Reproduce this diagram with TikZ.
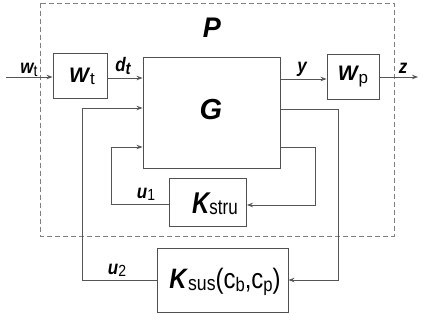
\documentclass[tikz,border=0pt]{standalone}
\usepackage{fontspec}
\setmainfont{Liberation Sans}
\usetikzlibrary{arrows.meta}
\definecolor{boxgray}{HTML}{505050}
\definecolor{linegray}{HTML}{555555}
\begin{document}
\begin{tikzpicture}[x=1pt,y=-1pt,
  blk/.style={draw=boxgray, line width=0.9pt, rectangle, inner sep=0pt},
  sig/.style={draw=linegray, line width=0.9pt, -{Stealth[length=6pt,width=4.5pt]}},
  lbl/.style={font=\fontsize{17}{19}\selectfont\bfseries\itshape, inner sep=0pt}]
\useasboundingbox (0,0) rectangle (423,323);
% P dashed box
\draw[draw=gray, line width=0.9pt, dash pattern=on 5pt off 3pt] (40,3) rectangle (394,236);
\node[inner sep=0pt, font=\fontsize{27}{30}\selectfont\bfseries\itshape] (P) at (212,28) {\scalebox{1}[1.05]{P}};
% blocks
\node[blk, minimum width=54pt, minimum height=45pt] (Wt) at (80,76) {};
\node[inner sep=0pt, font=\fontsize{21}{24}\selectfont] (Wtl) at (82,76) {\textbf{\textit{W}}\kern-0.5pt\raisebox{-2pt}{\fontsize{17}{19}\selectfont t}};
\node[blk, minimum width=137pt, minimum height=111pt] (G) at (211.5,112.5) {};
\node[inner sep=0pt, font=\fontsize{29}{32}\selectfont\bfseries\itshape] (Gl) at (211,110) {G};
\node[blk, minimum width=52pt, minimum height=45pt] (Wp) at (353,76.5) {};
\node[inner sep=0pt, font=\fontsize{21}{24}\selectfont] (Wpl) at (Wp.center) {\textbf{\textit{W}}\kern-0.5pt\raisebox{-3pt}{\fontsize{17}{19}\selectfont p}};
\node[blk, minimum width=77pt, minimum height=48pt] (Ks) at (208,202) {};
\node[inner sep=0pt, font=\fontsize{24}{27}\selectfont] (Ksl) at (215,204) {\scalebox{1}[1.25]{\textbf{\textit{K}}\kern-1.5pt\raisebox{-1pt}{\fontsize{17}{19}\selectfont stru}}};
\node[blk, minimum width=131pt, minimum height=64pt] (Ku) at (222.5,280) {};
\node[inner sep=0pt, font=\fontsize{23}{26}\selectfont] (Kul) at (225,282) {\scalebox{1.04}[1.22]{\textbf{\textit{K}}\raisebox{-2pt}{\fontsize{17}{19}\selectfont sus}(c\raisebox{-3pt}{\fontsize{16}{18}\selectfont b},c\raisebox{-3pt}{\fontsize{16}{18}\selectfont p})}};
% coordinates
\coordinate (in) at (6,77);
\coordinate (out) at (418,77);
\coordinate (r1) at (338,109);
\coordinate (r2) at (338,280);
\coordinate (l1) at (82,280);
\coordinate (l2) at (82,108);
\coordinate (s1) at (315,147);
\coordinate (s2) at (315,205);
\coordinate (t1) at (111,204);
\coordinate (t2) at (111,147);
% signals
\draw[sig] (in) -- (Wt.west |- in);
\draw[sig] (Wt.east |- 0,78) -- (G.west |- 0,78);
\draw[sig] (G.east |- 0,79) -- (Wp.west |- 0,79);
\draw[sig] (Wp.east |- out) -- (out);
\draw[sig] (G.east |- r1) -- (r1) -- (r2) -- (Ku.east |- r2);
\draw[sig] (Ku.west |- l1) -- (l1) -- (l2) -- (G.west |- l2);
\draw[sig] (G.east |- s1) -- (s1) -- (s2) -- (Ks.east |- s2);
\draw[sig] (Ks.west |- t1) -- (t1) -- (t2) -- (G.west |- t2);
% labels
\node[lbl] (lw) at (29,70) {\scalebox{1}[1.15]{w\raisebox{-3pt}{\mdseries\upshape\fontsize{14}{16}\selectfont t}}};
\node[lbl] (ld) at (123,66) {\scalebox{1}[1.15]{d\raisebox{-3pt}{\fontsize{15}{17}\selectfont t}}};
\node[lbl] (ly) at (302,69) {\scalebox{1}[1.15]{y}};
\node[lbl] (lz) at (403,68) {\scalebox{1}[1.15]{z}};
\node[lbl] (lu1) at (146,194) {\scalebox{1}[1.15]{u\raisebox{-2pt}{\mdseries\upshape\fontsize{14}{16}\selectfont 1}}};
\node[lbl] (lu2) at (117,270) {\scalebox{1}[1.15]{u\raisebox{-2pt}{\mdseries\upshape\fontsize{14}{16}\selectfont 2}}};
\end{tikzpicture}
\end{document}
